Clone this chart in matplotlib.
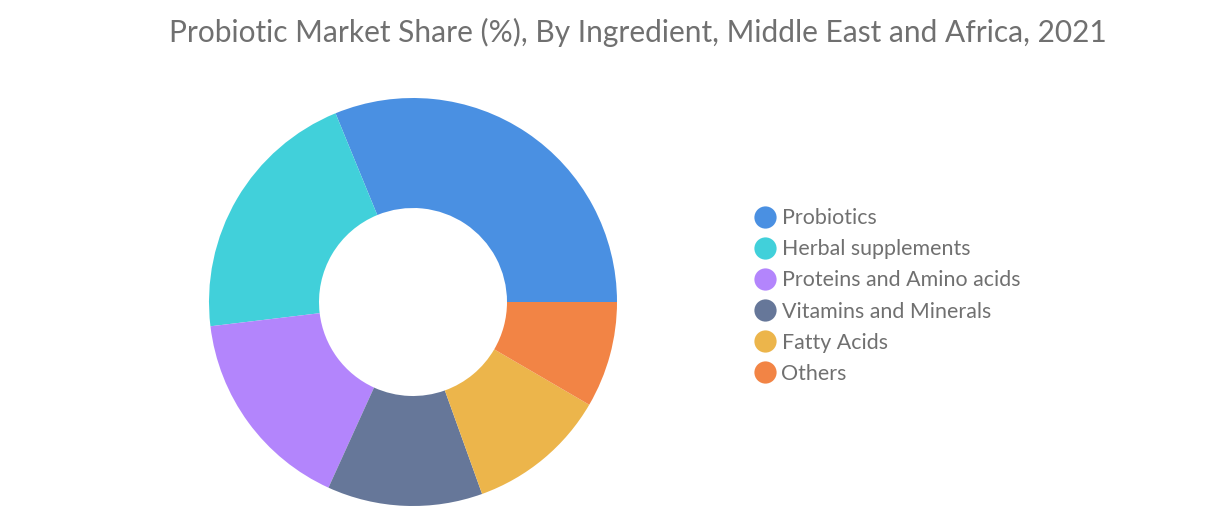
import matplotlib
matplotlib.use("Agg")
import matplotlib.pyplot as plt
from matplotlib.lines import Line2D

# --- data ---
categories = ["Probiotics", "Herbal supplements", "Proteins and Amino acids",
              "Vitamins and Minerals", "Fatty Acids", "Others"]
shares = [31.2, 20.7, 16.3, 12.3, 11.1, 8.4]
colors = ["#4a90e2", "#41d0da", "#b385fc", "#667799", "#ecb54b", "#f28445"]

title = "Probiotic Market Share (%), By Ingredient, Middle East and Africa, 2021"

plt.rcParams['font.family'] = ['Lato', 'DejaVu Sans']

W, H = 1221, 526
fig = plt.figure(figsize=(W / 100, H / 100), dpi=100)

# pie axes: centre (413, 302) px from top-left, radius ~204 px
r_px = 204
cx, cy = 413, 302
ax = fig.add_axes([(cx - r_px) / W, (H - cy - r_px) / H, 2 * r_px / W, 2 * r_px / H])
ax.pie(shares, colors=colors, startangle=0, counterclock=True, radius=1.0,
       wedgeprops=dict(width=1 - 94 / 204, edgecolor="none"))
ax.set_xlim(-1, 1)
ax.set_ylim(-1, 1)
ax.set_aspect("equal")
ax.axis("off")

fig.text(638 / W, 1 - 32 / H, title, ha="center", va="center",
         fontsize=21.5, color="#707070")

handles = [Line2D([0], [0], marker="o", linestyle="none", markersize=16,
                  markerfacecolor=c, markeredgecolor="none") for c in colors]
leg = fig.legend(handles, categories, loc="center left",
                 bbox_to_anchor=(743 / W, 1 - 296 / H), frameon=False,
                 fontsize=15.4, labelcolor="#707070", handletextpad=0.2,
                 labelspacing=0.52, handlelength=1.1, borderpad=0)

fig.savefig("out.png", dpi=100)
